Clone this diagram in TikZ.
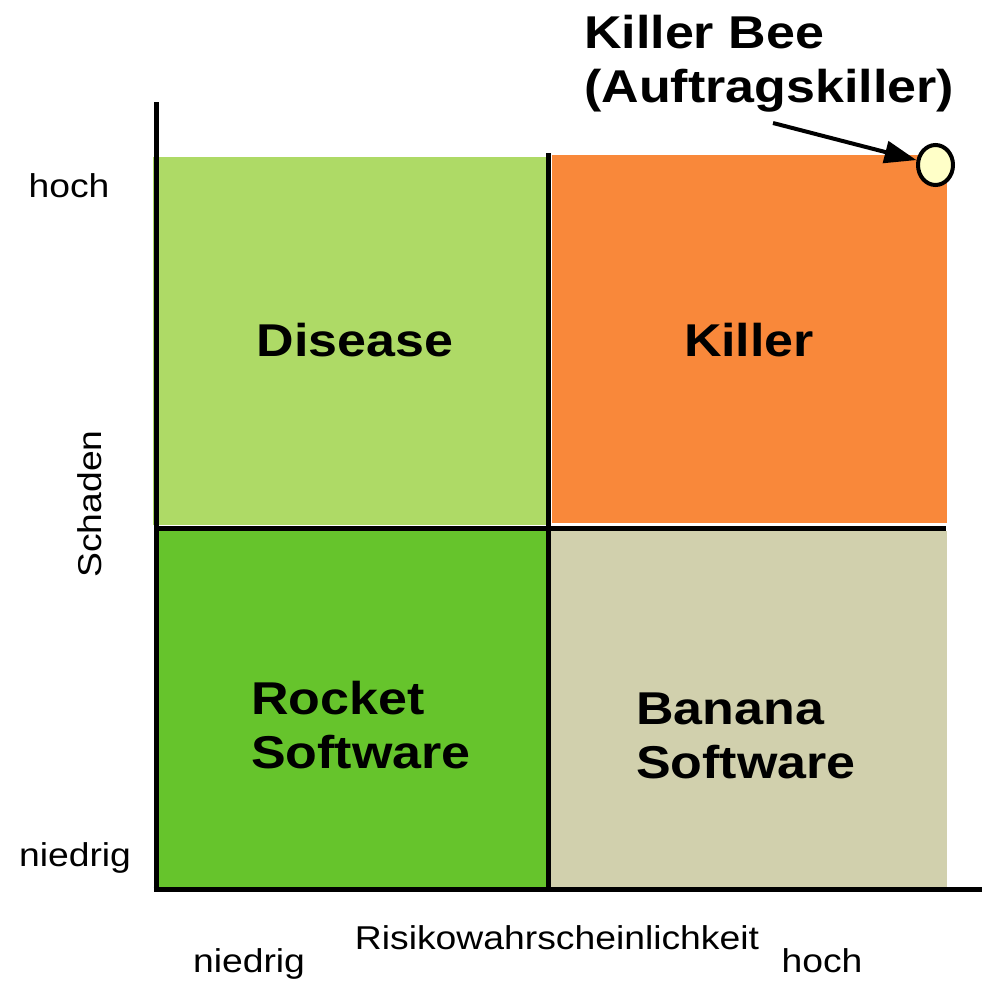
\documentclass[tikz,border=0pt]{standalone}
\usepackage{fontspec}
\setmainfont{Liberation Sans}[FakeStretch=1.13]
\usetikzlibrary{arrows.meta,shapes.geometric}
\definecolor{lgreen}{HTML}{AEDA66}
\definecolor{dgreen}{HTML}{66C42C}
\definecolor{orng}{HTML}{F9883A}
\definecolor{beige}{HTML}{D1D0AD}
\definecolor{beefill}{HTML}{FFFFC8}
\tikzset{
  quad/.style={draw=none, inner sep=0pt, outer sep=0pt, anchor=north west},
  big/.style={inner sep=0pt, font=\fontsize{46bp}{54bp}\selectfont\bfseries, align=left},
  small/.style={inner sep=0pt, font=\fontsize{33bp}{40bp}\selectfont},
  axis/.style={line width=5bp, black},
}
\begin{document}
\begin{tikzpicture}[x=1bp, y=-1bp]
\useasboundingbox (0,0) rectangle (982,981);
% quadrants
\node[quad, fill=lgreen, minimum width=394bp, minimum height=368bp] (q1) at (153,157) {};
\node[quad, fill=orng, minimum width=395bp, minimum height=368bp] (q2) at (552,155) {};
\node[quad, fill=dgreen, minimum width=393bp, minimum height=358bp] (q3) at (155,531) {};
\node[quad, fill=beige, minimum width=397bp, minimum height=358bp] (q4) at (550,531) {};
% axes and dividers
\coordinate (ytop) at (156,102);
\coordinate (ybot) at (156,891.5);
\coordinate (xl) at (153.5,889);
\coordinate (xr) at (982,889);
\coordinate (mvt) at (548,153);
\coordinate (mvb) at (548,889);
\coordinate (mhl) at (155,528.5);
\coordinate (mhr) at (946,528.5);
\draw[axis] (ytop) -- (ybot);
\draw[axis] (xl) -- (xr);
\draw[axis] (mvt) -- (mvb);
\draw[axis] (mhl) -- (mhr);
% quadrant labels
\node[big, anchor=base] (dis) at (355,356) {Disease};
\node[big, anchor=base] (kil) at (749,356) {Killer};
\node[big, anchor=base west] (rock) at (251,768) {Rocket\\Software};
\node[big, anchor=base west] (ban) at (636,778) {Banana\\Software};
% killer bee
\node[big, anchor=base west] (kb) at (584,102) {Killer Bee\\(Auftragskiller)};
\node[draw=black, line width=4bp, fill=beefill, ellipse, minimum width=35bp, minimum height=40bp, inner sep=0pt] (bee) at (935.5,165) {};
\coordinate (arrstart) at (773,123);
\draw[line width=4bp, -{Triangle[length=32bp, width=22bp]}] (arrstart) -- (bee);
% axis labels
\node[small, anchor=base] (yh) at (69,197) {hoch};
\node[small, anchor=base] (yn) at (75,866) {niedrig};
\node[small, anchor=base, rotate=90] (ys) at (101,504) {Schaden};
\node[small, anchor=base] (xt) at (557,949) {Risikowahrscheinlichkeit};
\node[small, anchor=base] (xn) at (249,972) {niedrig};
\node[small, anchor=base] (xh) at (822,972) {hoch};
\end{tikzpicture}
\end{document}
